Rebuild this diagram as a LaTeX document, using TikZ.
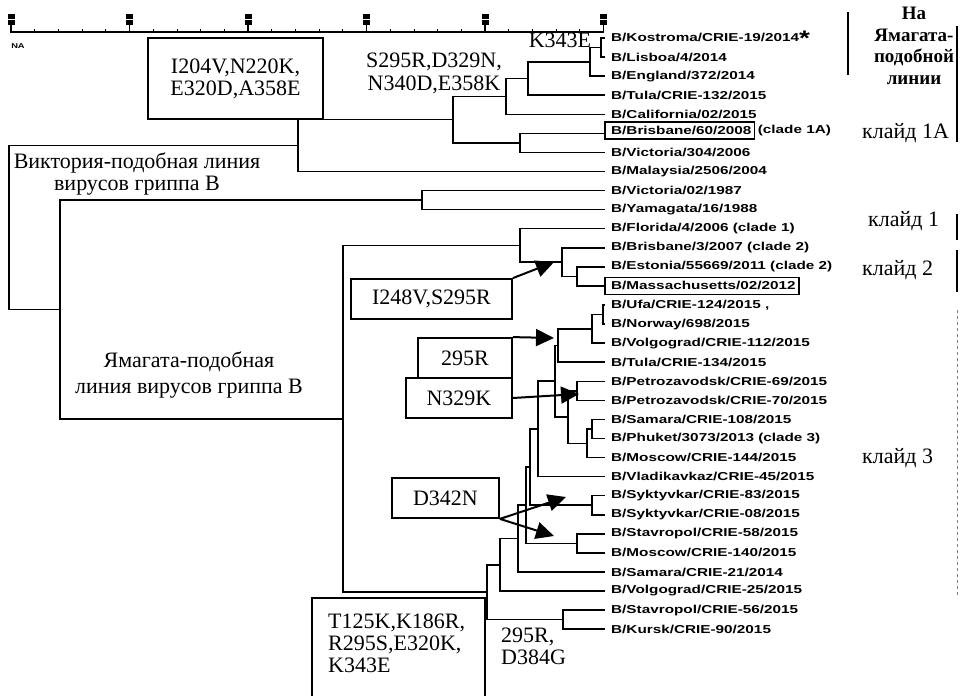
\documentclass[tikz,border=0pt]{standalone}
\usepackage{fontspec}
\setmainfont{Liberation Serif}
\newfontfamily\leaffam[FakeStretch=1.33]{Liberation Sans}
\usetikzlibrary{arrows.meta}
\newcommand\leaffnt{\leaffam\bfseries\fontsize{11.5}{13}\selectfont}
\newcommand\mutfnt{\fontsize{22}{22}\selectfont}
\newcommand\headfnt{\bfseries\fontsize{19}{21.5}\selectfont}
\newcommand\starfnt{\bfseries\fontsize{21}{21}\selectfont}
\begin{document}
\begin{tikzpicture}[x=1pt,y=-1pt,
  br/.style={line width=1.5pt},
  leaf/.style={anchor=west,inner sep=0pt,font=\leaffnt},
  lbox/.style={line width=1.5pt},
  mbox/.style={draw,line width=1.8pt,inner sep=0pt,font=\mutfnt,align=center},
  mtext/.style={inner sep=0pt,font=\mutfnt,align=center},
  gtext/.style={inner sep=0pt,font=\mutfnt,align=center},
  ctext/.style={inner sep=0pt,font=\mutfnt,anchor=west},
  arr/.style={line width=2pt,-{Triangle[length=18pt,width=17pt]}},
  bar/.style={line width=2pt}]
\useasboundingbox (0,0) rectangle (962,696);
\fill[white] (0,0) rectangle (962,696);
\clip (0,0) rectangle (962,696);
% axis
\draw[line width=1.2pt] (10,32) -- (604,32);
\foreach \k in {0,...,25} \draw[line width=0.8pt] ({11+23.7*\k},32) -- ++(0,-3);
\foreach \xx in {11,129.5,248,366.5,485,603.5} {
  \draw[line width=1.2pt] (\xx,32) -- (\xx,25);
  \fill (\xx-3.5,14) rectangle (\xx+3.5,18.5);
  \fill (\xx-3.5,20) rectangle (\xx+3.5,25);
}
\node[inner sep=0pt,font=\leaffam\bfseries\fontsize{7}{8}\selectfont] (na) at (18,46) {NA};
% leaf ends
\foreach \i in {0,...,31} \coordinate (e\i) at (605,{38+19.07*\i});
% internal nodes
\coordinate (n1) at (601,47.5);
\coordinate (n2) at (590,61.8);
\coordinate (n3) at (528,78.5);
\coordinate (n4) at (506,96.4);
\coordinate (n5) at (520,142.9);
\coordinate (n6) at (453,119.6);
\coordinate (n7) at (298,145.6);
\coordinate (n8) at (422,200.1);
\coordinate (n9) at (577,276.4);
\coordinate (n10) at (562,262.1);
\coordinate (n11) at (520,245.4);
\coordinate (z1) at (603,314.5);
\coordinate (z2) at (592,328.8);
\coordinate (z3) at (558,345.5);
\coordinate (p) at (577,390.8);
\coordinate (sp) at (592,429.0);
\coordinate (spm) at (587,443.3);
\coordinate (ps) at (568,417.0);
\coordinate (z4) at (555,381.2);
\coordinate (na1) at (538,428.9);
\coordinate (sy) at (592,505.2);
\coordinate (nb) at (530,467.1);
\coordinate (sm) at (577,543.4);
\coordinate (nc) at (526,505.2);
\coordinate (nd) at (518,538.6);
\coordinate (ne) at (500,564.8);
\coordinate (sk) at (563,619.6);
\coordinate (nf) at (487,592.2);
\coordinate (n12) at (343,418.8);
\coordinate (n13) at (60,309.5);
\coordinate (root) at (9,227.5);
% branches
\draw[br] (n1) |- (e0); \draw[br] (n1) |- (e1);
\draw[br] (n2) |- (n1); \draw[br] (n2) |- (e2);
\draw[br] (n3) |- (n2); \draw[br] (n3) |- (e3);
\draw[br] (n4) |- (n3); \draw[br] (n4) |- (e4);
\draw[br] (n5) |- (e5); \draw[br] (n5) |- (e6);
\draw[br] (n6) |- (n4); \draw[br] (n6) |- (n5);
\draw[br] (n7) |- (n6); \draw[br] (n7) |- (e7);
\draw[br] (n8) |- (e8); \draw[br] (n8) |- (e9);
\draw[br] (n9) |- (e12); \draw[br] (n9) |- (e13);
\draw[br] (n10) |- (e11); \draw[br] (n10) |- (n9);
\draw[br] (n11) |- (e10); \draw[br] (n11) |- (n10);
\draw[br] (z1) |- (e14); \draw[br] (z1) |- (e15);
\draw[br] (z2) |- (z1); \draw[br] (z2) |- (e16);
\draw[br] (z3) |- (z2); \draw[br] (z3) |- (e17);
\draw[br] (p) |- (e18); \draw[br] (p) |- (e19);
\draw[br] (sp) |- (e20); \draw[br] (sp) |- (e21);
\draw[br] (spm) |- (sp); \draw[br] (spm) |- (e22);
\draw[br] (ps) |- (p); \draw[br] (ps) |- (spm);
\draw[br] (z4) |- (z3); \draw[br] (z4) |- (ps);
\draw[br] (na1) |- (z4); \draw[br] (na1) |- (e23);
\draw[br] (sy) |- (e24); \draw[br] (sy) |- (e25);
\draw[br] (nb) |- (na1); \draw[br] (nb) |- (sy);
\draw[br] (sm) |- (e26); \draw[br] (sm) |- (e27);
\draw[br] (nc) |- (nb); \draw[br] (nc) |- (sm);
\draw[br] (nd) |- (nc); \draw[br] (nd) |- (e28);
\draw[br] (ne) |- (nd); \draw[br] (ne) |- (e29);
\draw[br] (sk) |- (e30); \draw[br] (sk) |- (e31);
\draw[br] (nf) |- (ne); \draw[br] (nf) |- (sk);
\draw[br] (n12) |- (n11); \draw[br] (n12) |- (nf);
\draw[br] (n13) |- (n8); \draw[br] (n13) |- (n12);
\draw[br] (root) |- (n7); \draw[br] (root) |- (n13);
% leaf labels
\node[leaf] (l0) at ([xshift=6pt]e0) {B/Kostroma/CRIE-19/2014\raisebox{-4pt}{\starfnt *}};
\node[leaf] (l1) at ([xshift=6pt]e1) {B/Lisboa/4/2014};
\node[leaf] (l2) at ([xshift=6pt]e2) {B/England/372/2014};
\node[leaf] (l3) at ([xshift=6pt]e3) {B/Tula/CRIE-132/2015};
\node[leaf] (l4) at ([xshift=6pt]e4) {B/California/02/2015};
\node[leaf] (l5) at ([xshift=6pt,yshift=3pt]e5) {B/Brisbane/60/2008};
\node[leaf] (l5b) at ([xshift=6pt]l5.east) {(clade 1A)};
\node[leaf] (l6) at ([xshift=6pt]e6) {B/Victoria/304/2006};
\node[leaf] (l7) at ([xshift=6pt]e7) {B/Malaysia/2506/2004};
\node[leaf] (l8) at ([xshift=6pt]e8) {B/Victoria/02/1987};
\node[leaf] (l9) at ([xshift=6pt]e9) {B/Yamagata/16/1988};
\node[leaf] (l10) at ([xshift=6pt]e10) {B/Florida/4/2006 (clade 1)};
\node[leaf] (l11) at ([xshift=6pt]e11) {B/Brisbane/3/2007 (clade 2)};
\node[leaf] (l12) at ([xshift=6pt]e12) {B/Estonia/55669/2011 (clade 2)};
\node[leaf] (l13) at ([xshift=6pt]e13) {B/Massachusetts/02/2012};
\node[leaf] (l14) at ([xshift=6pt]e14) {B/Ufa/CRIE-124/2015 ,};
\node[leaf] (l15) at ([xshift=6pt]e15) {B/Norway/698/2015};
\node[leaf] (l16) at ([xshift=6pt]e16) {B/Volgograd/CRIE-112/2015};
\node[leaf] (l17) at ([xshift=6pt]e17) {B/Tula/CRIE-134/2015};
\node[leaf] (l18) at ([xshift=6pt]e18) {B/Petrozavodsk/CRIE-69/2015};
\node[leaf] (l19) at ([xshift=6pt]e19) {B/Petrozavodsk/CRIE-70/2015};
\node[leaf] (l20) at ([xshift=6pt]e20) {B/Samara/CRIE-108/2015};
\node[leaf] (l21) at ([xshift=6pt]e21) {B/Phuket/3073/2013 (clade 3)};
\node[leaf] (l22) at ([xshift=6pt]e22) {B/Moscow/CRIE-144/2015};
\node[leaf] (l23) at ([xshift=6pt]e23) {B/Vladikavkaz/CRIE-45/2015};
\node[leaf] (l24) at ([xshift=6pt]e24) {B/Syktyvkar/CRIE-83/2015};
\node[leaf] (l25) at ([xshift=6pt]e25) {B/Syktyvkar/CRIE-08/2015};
\node[leaf] (l26) at ([xshift=6pt]e26) {B/Stavropol/CRIE-58/2015};
\node[leaf] (l27) at ([xshift=6pt]e27) {B/Moscow/CRIE-140/2015};
\node[leaf] (l28) at ([xshift=6pt]e28) {B/Samara/CRIE-21/2014};
\node[leaf] (l29) at ([xshift=6pt]e29) {B/Volgograd/CRIE-25/2015};
\node[leaf] (l30) at ([xshift=6pt]e30) {B/Stavropol/CRIE-56/2015};
\node[leaf] (l31) at ([xshift=6pt]e31) {B/Kursk/CRIE-90/2015};
\draw[lbox] ([xshift=-6pt,yshift=4pt]l5.north west) rectangle ([xshift=3pt,yshift=-4pt]l5.south east);
\draw[lbox] ([xshift=-6pt,yshift=4pt]l13.north west) rectangle ([xshift=3pt,yshift=-4pt]l13.south east);
% mutation boxes and labels
\node[mbox,minimum width=175pt,minimum height=81pt] (b1) at (235.5,78.5) {I204V,N220K,\\E320D,A358E};
\node[mtext] (k343) at (560,40) {K343E};
\node[mtext,font=\fontsize{22}{23}\selectfont] (s295) at (434,73) {S295R,D329N,\\N340D,E358K};
\node[mbox,minimum width=161pt,minimum height=40pt] (b2) at (431.5,299) {I248V,S295R};
\node[mbox,minimum width=94pt,minimum height=40pt] (b3) at (465,358) {295R};
\node[mbox,minimum width=106pt,minimum height=40pt] (b4) at (459,398) {N329K};
\node[mbox,minimum width=107pt,minimum height=40pt] (b5) at (445.5,498) {D342N};
\node[mbox,minimum width=173pt,minimum height=122pt] (b6) at (398.5,659) {};
\node[mtext,anchor=north west,align=left] (t6) at (328,614) {T125K,K186R,\\R295S,E320K,\\K343E};
\node[mtext,anchor=north west,align=left] (t7) at (501,628) {295R,\\D384G};
% group labels
\node[gtext] (vic) at (137,174) {Виктория-подобная линия\\вирусов гриппа В};
\node[gtext,font=\fontsize{22}{26}\selectfont] (yam) at (189,375) {Ямагата-подобная\\линия вирусов гриппа В};
% arrows
\coordinate (t1) at (554,262.1);
\coordinate (t2) at (554,338);
\coordinate (t3) at (579,394);
\coordinate (t4) at (566,497);
\coordinate (t5) at (554,536);
\draw[arr] (b2.north east) -- (t1);
\draw[arr] (b3.north east) -- (t2);
\draw[arr] (b4.east) -- (t3);
\draw[arr] (b5.south east) -- (t4);
\draw[arr] (b5.south east) -- (t5);
% right column
\node[inner sep=0pt,font=\headfnt,align=center] (hdr) at (914,46) {На\\Ямагата-\\подобной\\линии};
\node[ctext] (c1a) at (862,133) {клайд 1A};
\node[ctext] (c1) at (868,221) {клайд 1};
\node[ctext] (c2) at (862,270) {клайд 2};
\node[ctext] (c3) at (862,458) {клайд 3};
\draw[bar] (848,12) -- (848,75);
\draw[bar] (957,26) -- (957,142);
\draw[bar] (957,214) -- (957,240);
\draw[bar] (957,250) -- (957,292);
\draw[line width=0.8pt,dashed,gray] (957,310) -- (957,598);
\end{tikzpicture}
\end{document}
